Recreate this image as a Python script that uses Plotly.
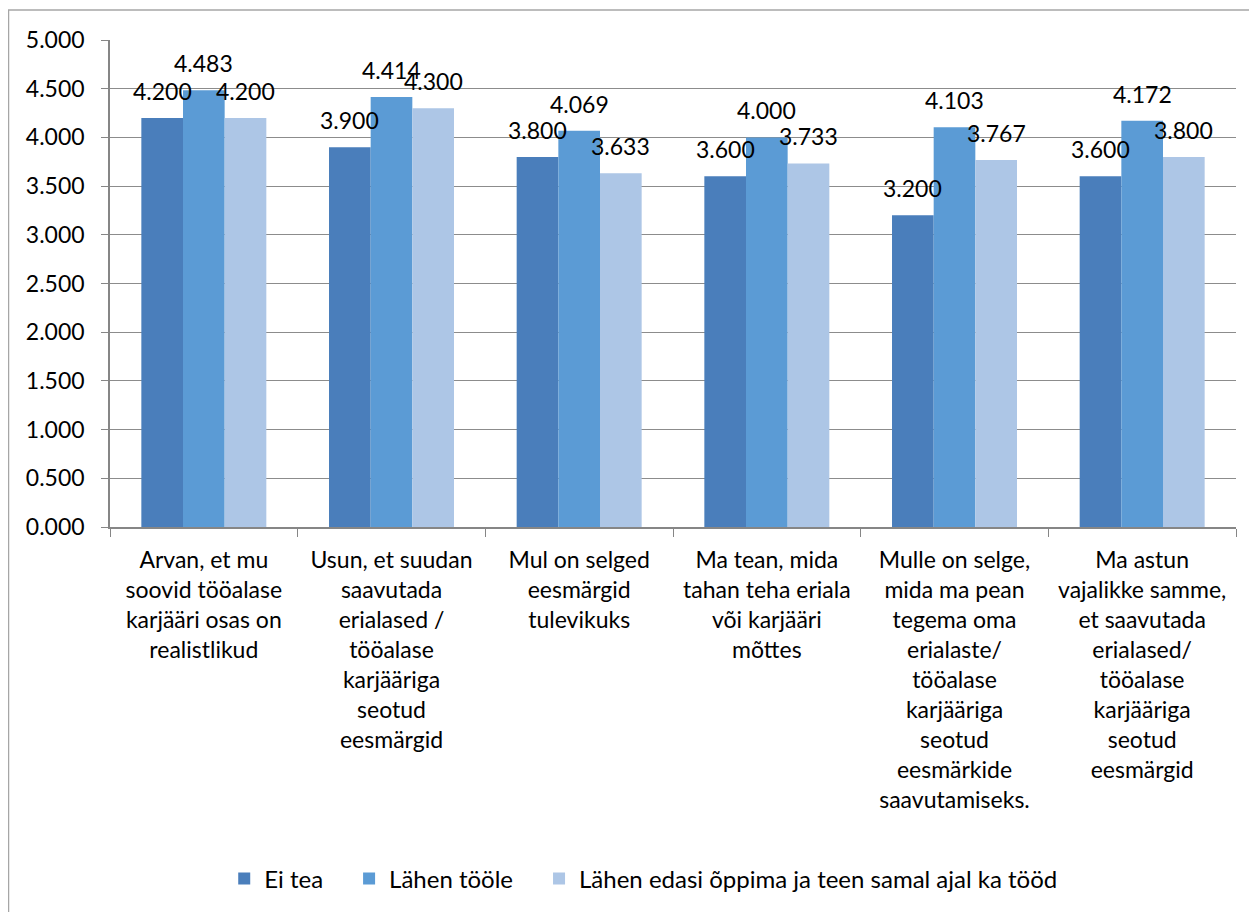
import plotly.graph_objects as go

categories = [
    "Arvan, et mu<br>soovid tööalase<br>karjääri osas on<br>realistlikud",
    "Usun, et suudan<br>saavutada<br>erialased /<br>tööalase<br>karjääriga<br>seotud<br>eesmärgid",
    "Mul on selged<br>eesmärgid<br>tulevikuks",
    "Ma tean, mida<br>tahan teha eriala<br>või karjääri<br>mõttes",
    "Mulle on selge,<br>mida ma pean<br>tegema oma<br>erialaste/<br>tööalase<br>karjääriga<br>seotud<br>eesmärkide<br>saavutamiseks.",
    "Ma astun<br>vajalikke samme,<br>et saavutada<br>erialased/<br>tööalase<br>karjääriga<br>seotud<br>eesmärgid",
]
series_names = ["Ei tea", "Lähen tööle", "Lähen edasi õppima ja teen samal ajal ka tööd"]
ei_tea = [4.200, 3.900, 3.800, 3.600, 3.200, 3.600]
lahen_toole = [4.483, 4.414, 4.069, 4.000, 4.103, 4.172]
lahen_edasi = [4.200, 4.300, 3.633, 3.733, 3.767, 3.800]
y_ticks = [0, 0.5, 1, 1.5, 2, 2.5, 3, 3.5, 4, 4.5, 5]

colors = ["#4A7EBB", "#5B9BD5", "#ADC6E6"]
FONT = "Lato"
# extra spacing after legend entries (visual gap only)
legend_pad = ["\u2003\u2009", "\u2003\u2009", ""]

fig = go.Figure()
all_series = [ei_tea, lahen_toole, lahen_edasi]
for name, vals, col, pad in zip(series_names, all_series, colors, legend_pad):
    fig.add_trace(go.Bar(
        x=categories, y=vals, name=name + pad,
        marker=dict(color=col, line=dict(width=0)),
    ))

# figure is drawn with an 8px page offset
FW, FH = 1249, 904
L, R, T, B = 102, 21, 32, 384
W = FW - L - R
H = FH - T - B
cat_w = W / len(categories)
bargap = 0.334
bar_w = cat_w * (1 - bargap) / 3
for si, vals in enumerate(all_series):
    for ci, v in enumerate(vals):
        fig.add_annotation(
            x=categories[ci], y=v, text=f"{v:.3f}", showarrow=False,
            xshift=(si - 1) * bar_w, yshift=27, yanchor="middle",
            font=dict(family=FONT, size=23, color="#000000"),
        )

# outer chart frame
fig.add_shape(
    type="rect", xref="paper", yref="paper",
    x0=(0.5 - L) / W, x1=(1300 - L) / W,
    y0=(FH - B - 1000) / H, y1=(FH - B - 2) / H,
    line=dict(color="#A6A6A6", width=1.5), fillcolor="rgba(0,0,0,0)", layer="below",
)

fig.update_layout(
    width=FW, height=FH,
    margin=dict(l=L, r=R, t=T, b=B),
    paper_bgcolor="white", plot_bgcolor="white",
    barmode="group", bargap=bargap, bargroupgap=0,
    font=dict(family=FONT, size=22, color="#000000"),
    showlegend=True,
    legend=dict(
        orientation="h", x=0.474, xanchor="center", y=-0.673, yanchor="top",
        font=dict(family=FONT, size=24), itemsizing="constant",
        itemwidth=30, tracegroupgap=0,
    ),
    xaxis=dict(
        showline=True, linecolor="#868686", linewidth=1.5,
        ticks="outside", tickson="boundaries", ticklen=8, tickcolor="#868686",
        tickangle=0, showgrid=False, ticklabelstandoff=12,
        tickfont=dict(family=FONT, size=23),
    ),
    yaxis=dict(
        range=[0, 5], tickvals=y_ticks, tickformat=".3f",
        showline=True, linecolor="#868686", linewidth=1.5,
        ticks="outside", ticklen=7, tickcolor="#868686",
        showgrid=True, gridcolor="#8C8C8C", gridwidth=1,
        zeroline=False, ticklabelstandoff=12,
        tickfont=dict(family=FONT, size=23),
    ),
)

fig.write_html("out.html")
